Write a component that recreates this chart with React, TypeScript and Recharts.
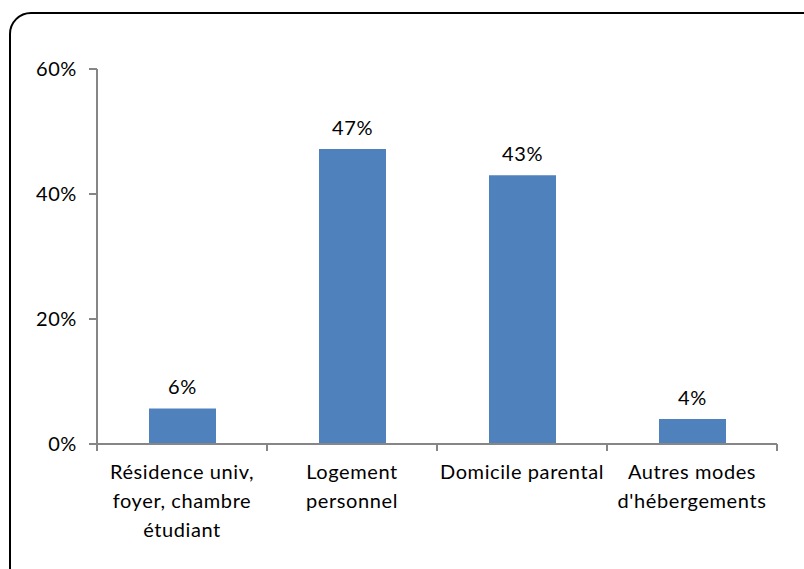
import { BarChart, Bar, XAxis, YAxis, LabelList } from "recharts";

const categories = [
  "Résidence univ,\nfoyer, chambre\nétudiant",
  "Logement\npersonnel",
  "Domicile parental",
  "Autres modes\nd'hébergements",
];
const shares = [0.057, 0.472, 0.43, 0.04];
const yTicks = [0, 0.2, 0.4, 0.6];

const data = categories.map((name, i) => ({ name, share: shares[i] }));

const FONT = "Lato, 'Open Sans', sans-serif";
const AXIS = "#868686";
const FONT_SIZE = 20;
const SPACING = 0.6;

const pct = (v: number) => `${Math.round(v * 100)}%`;

// category labels sit between boundary tick marks, like the original spreadsheet chart
function CategoryTick(props: any) {
  const { x, y, payload, index, visibleTicksCount } = props;
  const half = payload?.offset ?? 85;
  const lines = String(payload.value).split("\n");
  return (
    <g>
      <line x1={x - half} x2={x - half} y1={y - 7} y2={y} stroke={AXIS} strokeWidth={2} />
      {index === visibleTicksCount - 1 && (
        <line x1={x + half} x2={x + half} y1={y - 7} y2={y} stroke={AXIS} strokeWidth={2} />
      )}
      <text
        x={x}
        y={y + 28}
        textAnchor="middle"
        fontSize={FONT_SIZE}
        fontFamily={FONT}
        letterSpacing={SPACING}
        fill="#000"
      >
        {lines.map((l, i) => (
          <tspan key={i} x={x} dy={i === 0 ? 0 : 29}>
            {l}
          </tspan>
        ))}
      </text>
    </g>
  );
}

export default function App() {
  return (
    <div
      style={{
        position: "fixed",
        left: 0,
        top: 0,
        width: 804,
        height: 569,
        overflow: "hidden",
        background: "#fff",
      }}
    >
      <div
        style={{
          position: "absolute",
          left: 9,
          top: 12,
          width: 820,
          height: 580,
          border: "2px solid #000",
          borderRadius: 22,
        }}
      />
      <div style={{ position: "absolute", left: 0, top: 0 }}>
        <BarChart
          width={804}
          height={569}
          data={data}
          margin={{ top: 69, right: 27, bottom: 0, left: 0 }}
        >
          <XAxis
            dataKey="name"
            interval={0}
            height={125}
            tickLine={false}
            tickSize={7}
            tickMargin={0}
            axisLine={{ stroke: AXIS, strokeWidth: 2 }}
            tick={<CategoryTick />}
          />
          <YAxis
            width={97}
            domain={[0, 0.6]}
            ticks={yTicks}
            tickFormatter={pct}
            axisLine={{ stroke: AXIS, strokeWidth: 2 }}
            tickLine={{ stroke: AXIS, strokeWidth: 2 }}
            tickSize={8}
            tickMargin={12}
            tick={{ fill: "#000", fontSize: FONT_SIZE, fontFamily: FONT, letterSpacing: SPACING }}
          />
          <Bar dataKey="share" fill="#4F81BD" barSize={67} isAnimationActive={false}>
            <LabelList
              dataKey="share"
              position="top"
              offset={14}
              formatter={(v: any) => pct(Number(v))}
              style={{ fill: "#000", fontSize: FONT_SIZE, fontFamily: FONT, letterSpacing: SPACING }}
            />
          </Bar>
        </BarChart>
      </div>
    </div>
  );
}
